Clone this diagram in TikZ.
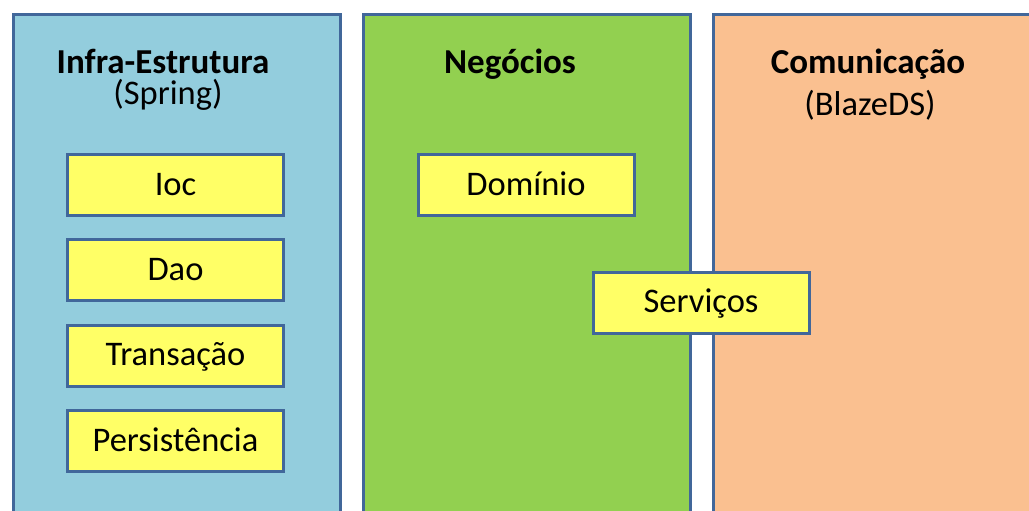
\documentclass[tikz,border=0pt]{standalone}
\usepackage{fontspec}
\setmainfont{Carlito}
\definecolor{frame}{HTML}{41679A}
\definecolor{infra}{HTML}{93CDDD}
\definecolor{negocio}{HTML}{92D050}
\definecolor{comunic}{HTML}{FAC090}
\definecolor{modulo}{HTML}{FFFF66}
\begin{document}
\begin{tikzpicture}[x=1pt,y=-1pt,
  coluna/.style={draw=frame, line width=3pt, anchor=north west, minimum width=327pt, minimum height=540pt, inner sep=0pt},
  modbox/.style={draw=frame, line width=3pt, fill=modulo, minimum width=216pt, minimum height=61pt, inner sep=0pt, text height=20pt, text depth=0pt, font=\fontsize{34.5}{40}\selectfont},
  titulo/.style={font=\fontsize{35}{40}\selectfont\bfseries, inner sep=0pt, anchor=base, text height=23pt, text depth=0pt},
  sub/.style={font=\fontsize{34.5}{40}\selectfont, inner sep=0pt, anchor=base, text height=22pt, text depth=6pt}]
\useasboundingbox (0,0) rectangle (1029,511);
\clip (0,0) rectangle (1029,511);
% colunas
\node[coluna, fill=infra] (infra) at (11.5,13.5) {};
\node[coluna, fill=negocio] (negocios) at (361.5,13.5) {};
\node[coluna, fill=comunic] (comunicacao) at (712,13.5) {};
% titulos
\node[titulo] (tinfra) at (163,74) {Infra-Estrutura};
\node[sub] (sinfra) at (168,104) {(Spring)};
\node[titulo] (tneg) at (510,74) {Negócios};
\node[titulo] (tcom) at (868,74) {Comunicação};
\node[sub] (scom) at (870,115) {(BlazeDS)};
% modulos
\node[modbox] (ioc) at (175.5,185) {Ioc};
\node[modbox] (dao) at (175.5,270) {Dao};
\node[modbox] (transacao) at (175.5,355.5) {Transação};
\node[modbox] (persistencia) at (175.5,441) {Persistência};
\node[modbox] (dominio) at (526,185) {Domínio};
\node[modbox] (servicos) at (701,302.5) {Serviços};
\end{tikzpicture}
\end{document}
